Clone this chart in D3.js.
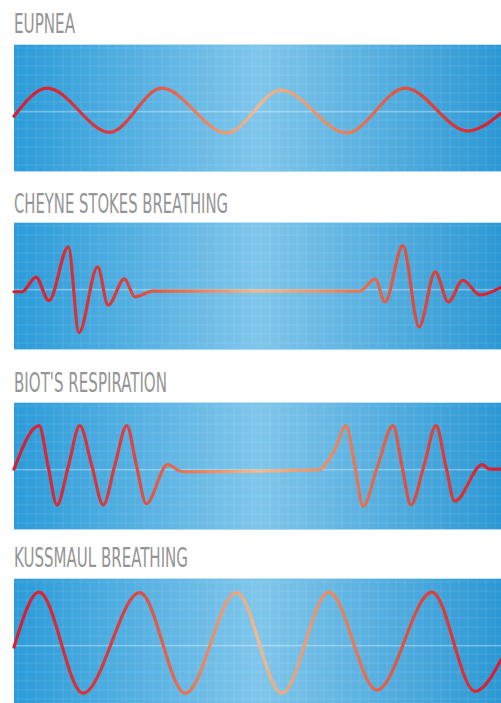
<!DOCTYPE html>
<html>
<head>
<meta charset="utf-8">
<script src="https://cdn.jsdelivr.net/npm/d3@7"></script>
<style>
  body { margin: 0; background: #fff; }
  svg { display: block; }
</style>
</head>
<body>
<script>
// Breathing patterns, time in seconds (0-60) and relative amplitude (-1..1)
const titles = ["EUPNEA", "CHEYNE STOKES BREATHING", "BIOT'S RESPIRATION", "KUSSMAUL BREATHING"];

const eupneaT = [0, 4.1, 11.8, 18.2, 26.2, 32.9, 41.0, 48.2, 55.9, 60];
const eupneaA = [-0.13, 0.31, -0.38, 0.31, -0.39, 0.28, -0.39, 0.31, -0.36, -0.08];

const cheyneT = [0, 1.0, 2.7, 4.3, 6.7, 8.0, 10.3, 11.6, 13.6, 14.9, 17.1, 42.6, 44.5, 45.7, 47.9, 49.9, 51.9, 53.5, 55.3, 57.4, 60];
const cheyneA = [-0.09, -0.09, 0.14, -0.23, 0.61, -0.73, 0.30, -0.30, 0.11, -0.17, -0.08, -0.08, 0.11, -0.25, 0.63, -0.64, 0.22, -0.25, 0.09, -0.14, -0.02];

const biotT = [0, 3.1, 4.2, 5.3, 6.7, 8.1, 9.6, 11.0, 12.4, 13.9, 15.1, 16.3, 18.9, 20.8, 37.5, 39.6, 40.9, 42.0, 43.0, 44.8, 46.7, 47.8, 48.9, 50.5, 52.0, 53.2, 54.3, 57.7, 58.6, 60];
const biotA = [-0.05, 0.63, 0, -0.61, 0, 0.63, 0, -0.61, 0, 0.63, 0, -0.59, 0.02, -0.09, -0.06, 0.28, 0.63, 0, -0.63, 0, 0.63, 0, -0.61, 0, 0.63, 0, -0.55, 0.02, -0.05, -0.05];

const kussT = [0, 3.1, 8.5, 15.5, 21.1, 27.4, 33.0, 38.8, 44.7, 51.5, 56.8, 60];
const kussA = [-0.08, 0.78, -0.80, 0.77, -0.80, 0.77, -0.80, 0.78, -0.75, 0.78, -0.77, -0.28];

const seriesT = [eupneaT, cheyneT, biotT, kussT];
const seriesA = [eupneaA, cheyneA, biotA, kussA];
</script>
<script>
const W = 501, H = 703;
const panelX = 14, panelH = 128;
const panelTops = [44, 222, 402, 578];
const titleBase = [33, 213, 392, 567];
const titleWidth = [61, 214, 153, 174];

const svg = d3.select("body").append("svg")
    .attr("width", W)
    .attr("height", H);

const defs = svg.append("defs");

// panel background: darker blue at the edges, light in the middle
const bg = defs.append("linearGradient")
    .attr("id", "bg")
    .attr("x1", "0%").attr("x2", "100%").attr("y1", "0%").attr("y2", "0%");
[[0, "#2b9bd9"], [0.5, "#80c6eb"], [1, "#2a97d4"]].forEach(s => {
    bg.append("stop").attr("offset", s[0]).attr("stop-color", s[1]);
});

// trace colour: red at the ends, peach in the middle
const tr = defs.append("linearGradient")
    .attr("id", "trace")
    .attr("gradientUnits", "userSpaceOnUse")
    .attr("x1", panelX).attr("x2", W).attr("y1", 0).attr("y2", 0);
[[0, "#d41f32"], [0.22, "#da3c3c"], [0.35, "#e8714e"], [0.5, "#f3ba8c"], [0.65, "#eb8a60"], [0.8, "#e0503e"], [1, "#d41d30"]].forEach(s => {
    tr.append("stop").attr("offset", s[0]).attr("stop-color", s[1]);
});

const x = d3.scaleLinear().domain([0, 60]).range([panelX, W]);

titles.forEach((title, i) => {
    const top = panelTops[i];
    const y = d3.scaleLinear().domain([-1, 1]).range([top + panelH, top]);

    svg.append("text")
        .attr("x", panelX)
        .attr("y", titleBase[i])
        .attr("textLength", titleWidth[i])
        .attr("lengthAdjust", "spacingAndGlyphs")
        .style("font-family", "'DejaVu Sans Condensed', 'DejaVu Sans'")
        .style("font-size", "26px")
        .style("fill", "#959595")
        .text(title);

    const g = svg.append("g");

    g.append("rect")
        .attr("x", panelX)
        .attr("y", top)
        .attr("width", W - panelX + 4)
        .attr("height", panelH)
        .attr("rx", 2)
        .attr("fill", "url(#bg)");

    // light edges top and bottom
    g.append("line")
        .attr("x1", panelX).attr("x2", W)
        .attr("y1", top + 0.5).attr("y2", top + 0.5)
        .attr("stroke", "#bfe2f5").attr("stroke-width", 1);
    g.append("line")
        .attr("x1", panelX).attr("x2", W)
        .attr("y1", top + panelH - 0.5).attr("y2", top + panelH - 0.5)
        .attr("stroke", "#a9d8f2").attr("stroke-width", 1);

    // fine grid
    const gx = d3.range(panelX + 4, W, 9);
    const gy = d3.range(top + 4, top + panelH, 9);
    g.selectAll(".gx").data(gx).join("line")
        .attr("x1", d => d).attr("x2", d => d)
        .attr("y1", top + 1).attr("y2", top + panelH - 1)
        .attr("stroke", "#ffffff").attr("stroke-opacity", 0.1);
    g.selectAll(".gy").data(gy).join("line")
        .attr("x1", panelX).attr("x2", W)
        .attr("y1", d => d).attr("y2", d => d)
        .attr("stroke", "#ffffff").attr("stroke-opacity", 0.1);

    // baseline
    g.append("line")
        .attr("x1", panelX).attr("x2", W)
        .attr("y1", y(-0.06)).attr("y2", y(-0.06))
        .attr("stroke", "#ffffff").attr("stroke-opacity", 0.3)
        .attr("stroke-width", 1.5);

    const pts = seriesT[i].map((t, k) => [t, seriesA[i][k]]);
    const line = d3.line()
        .x(d => x(d[0]))
        .y(d => y(d[1]))
        .curve(d3.curveMonotoneX);

    g.append("path")
        .datum(pts)
        .attr("d", line)
        .attr("fill", "none")
        .attr("stroke", "url(#trace)")
        .attr("stroke-width", 3.2)
        .attr("stroke-linejoin", "round")
        .attr("stroke-linecap", "round");
});
</script>
</body>
</html>
